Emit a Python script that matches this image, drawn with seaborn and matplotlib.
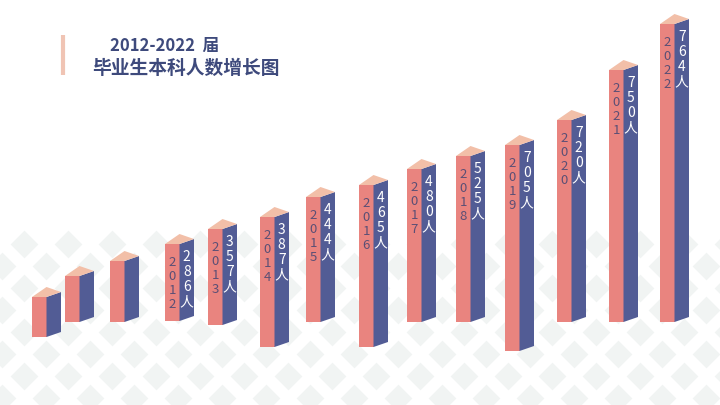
import matplotlib
matplotlib.use("Agg")
import matplotlib.pyplot as plt
import seaborn as sns
import numpy as np
from matplotlib.patches import Polygon

years = ["", "", "", "2012", "2013", "2014", "2015", "2016", "2017", "2018", "2019", "2020", "2021", "2022"]
counts = [None, None, None, 286, 357, 387, 444, 465, 480, 525, 705, 720, 750, 764]
# display geometry of the infographic columns (pixel layout of the poster)
bar_left = [32, 65, 110, 165, 208, 260, 306, 359, 407, 456, 505, 557, 609, 660]
bar_top = [298, 277, 262, 245, 230, 218, 198, 186, 170, 157, 146, 121, 71, 25]
bar_base = [338, 323, 323, 322, 326, 348, 323, 348, 323, 323, 352, 323, 323, 323]

FRONT = "#E9847F"
SIDE = "#525C95"
TOP = "#F2BFA8"
W = 14.5
S = 5

sns.set_theme(style="white")
plt.rcParams['font.family'] = ['Noto Sans CJK SC', 'DejaVu Sans']
fig = plt.figure(figsize=(7.2, 4.06), dpi=100)
ax = fig.add_axes([0, 0, 1, 1])
ax.set_xlim(0, 720)
ax.set_ylim(406, 0)
ax.axis("off")

# background diamond pattern
xs, ys = [], []
for r, y in enumerate(np.arange(245, 420, 22)):
    for x in np.arange(-20 + (r % 2) * 22, 740, 44):
        xs.append(x); ys.append(y)
ax.scatter(xs, ys, marker="D", s=200, color="#F1F4F3", zorder=0, linewidths=0)

heights = [b - t for t, b in zip(bar_top, bar_base)]
ax.bar(bar_left, heights, width=W, bottom=bar_top, align="edge", color=FRONT, zorder=2, linewidth=0)

for l, t, b, yr, c in zip(bar_left, bar_top, bar_base, years, counts):
    C = l + W
    ax.add_patch(Polygon([(C, t), (C + W, t - S), (C + W, b - S), (C, b)], color=SIDE, zorder=3, lw=0))
    ax.add_patch(Polygon([(l, t), (C, t), (C + W, t - S), (l + W, t - 2 * S)], color=TOP, zorder=3, lw=0))
    if yr:
        for i, ch in enumerate(yr):
            ax.text(l + W / 2, t + 18 + i * 14, ch, ha="center", va="center", fontsize=9.5,
                    color="#5B4F75", zorder=4)
        for i, ch in enumerate(str(c) + "人"):
            ax.text(C + W / 2, t + 12 + i * 15, ch, ha="center", va="center", fontsize=10,
                    color="white", zorder=4, fontweight="medium")

ax.plot([63, 63], [36, 76], color="#F0C4B4", lw=3, zorder=2, solid_capstyle="butt")
ax.text(110, 46, "2012-2022  届", fontsize=12, fontweight="bold", color="#3E4A7C", va="center")
ax.text(92, 68, "毕业生本科人数增长图", fontsize=13.5, fontweight="bold", color="#3E4A7C", va="center")

fig.savefig("out.png", dpi=100)
